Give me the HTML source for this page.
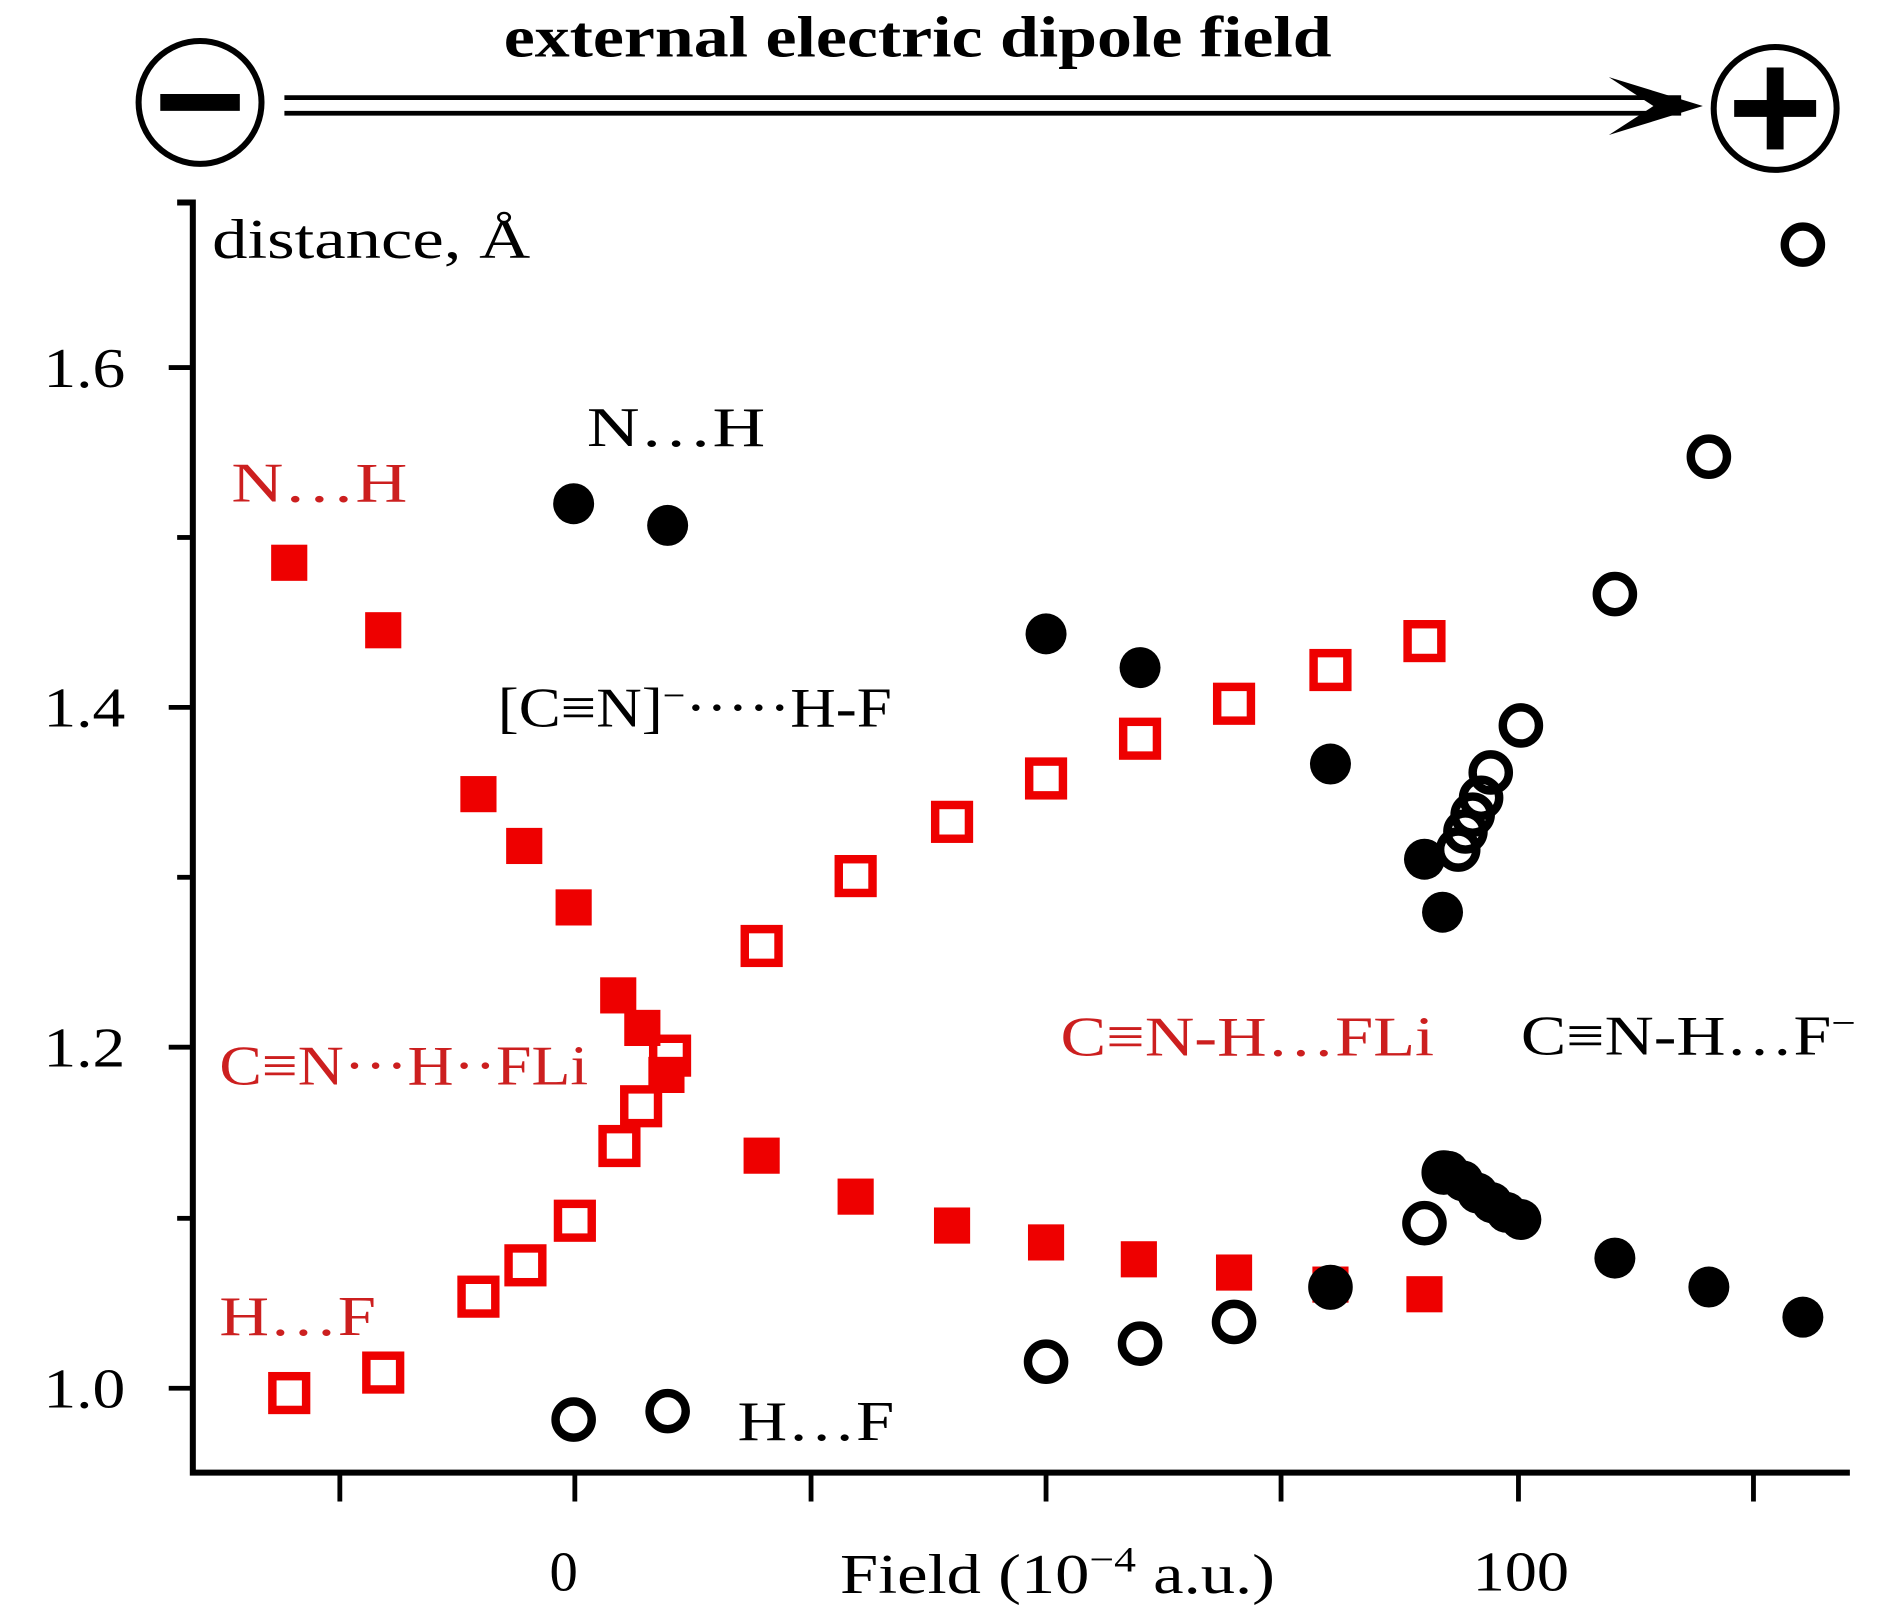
<!DOCTYPE html>
<html><head><meta charset="utf-8"><style>
html,body{margin:0;padding:0;background:#fff;}
svg{display:block;}
text{font-family:"Liberation Serif",serif;}
</style></head><body>
<svg width="1880" height="1616" viewBox="0 0 1560 1341" preserveAspectRatio="none" xmlns="http://www.w3.org/2000/svg">
<rect width="1560" height="1341" fill="#fff"/>
<!-- header -->
<text x="418" y="47" font-size="48" font-weight="bold" fill="#000" textLength="687" lengthAdjust="spacingAndGlyphs">external electric dipole field</text>
<circle cx="166" cy="85" r="51" fill="none" stroke="#000" stroke-width="5"/>
<rect x="133" y="78" width="66" height="14" fill="#000"/>
<circle cx="1473" cy="90" r="51" fill="none" stroke="#000" stroke-width="5"/>
<rect x="1439" y="83" width="68" height="14" fill="#000"/>
<rect x="1466" y="56" width="14" height="68" fill="#000"/>
<line x1="236" y1="81" x2="1395" y2="81" stroke="#000" stroke-width="4"/>
<line x1="236" y1="94" x2="1395" y2="94" stroke="#000" stroke-width="4"/>
<path d="M1335 64 L1413 88 L1335 112 L1372 88 Z" fill="#000"/>
<!-- axes -->
<path d="M147 168 H160 V1222 H1535" fill="none" stroke="#000" stroke-width="5"/>
<g stroke="#000" stroke-width="4">
<line x1="140" y1="305" x2="160" y2="305"/><line x1="147" y1="446" x2="160" y2="446"/>
<line x1="140" y1="587" x2="160" y2="587"/><line x1="147" y1="728" x2="160" y2="728"/>
<line x1="140" y1="869" x2="160" y2="869"/><line x1="147" y1="1011" x2="160" y2="1011"/>
<line x1="140" y1="1152" x2="160" y2="1152"/>
<line x1="282" y1="1222" x2="282" y2="1246"/><line x1="477" y1="1222" x2="477" y2="1246"/>
<line x1="673" y1="1222" x2="673" y2="1246"/><line x1="868" y1="1222" x2="868" y2="1246"/>
<line x1="1063" y1="1222" x2="1063" y2="1246"/><line x1="1260" y1="1222" x2="1260" y2="1246"/>
<line x1="1455" y1="1222" x2="1455" y2="1246"/>
</g>
<g font-size="47" fill="#000">
<text x="36" y="321" textLength="68" lengthAdjust="spacingAndGlyphs">1.6</text>
<text x="36" y="603" textLength="68" lengthAdjust="spacingAndGlyphs">1.4</text>
<text x="36" y="885" textLength="68" lengthAdjust="spacingAndGlyphs">1.2</text>
<text x="36" y="1168" textLength="68" lengthAdjust="spacingAndGlyphs">1.0</text>
<text x="456" y="1320">0</text>
<text x="1222" y="1320" textLength="80" lengthAdjust="spacingAndGlyphs">100</text>
<text x="697" y="1322" textLength="361" lengthAdjust="spacingAndGlyphs">Field (10<tspan font-size="30" dy="-18">−4</tspan><tspan dy="18"> a.u.)</tspan></text>
<text x="176" y="214" textLength="264" lengthAdjust="spacingAndGlyphs">distance, Å</text>
<text x="487" y="370" textLength="148" lengthAdjust="spacingAndGlyphs">N…H</text>
<text x="413" y="603" textLength="327" lengthAdjust="spacingAndGlyphs">[C≡N]<tspan font-size="30" dy="-16">−</tspan><tspan dy="16">·····H-F</tspan></text>
<text x="612" y="1195" textLength="130" lengthAdjust="spacingAndGlyphs">H…F</text>
<text x="1262" y="875" textLength="278" lengthAdjust="spacingAndGlyphs">C≡N-H…F<tspan font-size="30" dy="-16">−</tspan></text>
</g>
<g font-size="47" fill="#cc1f1f">
<text x="192" y="416" textLength="146" lengthAdjust="spacingAndGlyphs">N…H</text>
<text x="182" y="900" textLength="306" lengthAdjust="spacingAndGlyphs">C≡N···H··FLi</text>
<text x="880" y="876" textLength="310" lengthAdjust="spacingAndGlyphs">C≡N-H…FLi</text>
<text x="182" y="1108" textLength="130" lengthAdjust="spacingAndGlyphs">H…F</text>
</g>
<!-- red filled squares -->
<g fill="#ee0000">
<rect x="225" y="452" width="30" height="30"/><rect x="303" y="508" width="30" height="30"/>
<rect x="382" y="644" width="30" height="30"/><rect x="420" y="687" width="30" height="30"/>
<rect x="461" y="738" width="30" height="30"/><rect x="498" y="811" width="30" height="30"/>
<rect x="518" y="838" width="30" height="30"/><rect x="538" y="877" width="30" height="30"/>
<rect x="617" y="944" width="30" height="30"/><rect x="695" y="978" width="30" height="30"/>
<rect x="775" y="1002" width="30" height="30"/><rect x="853" y="1016" width="30" height="30"/>
<rect x="930" y="1030" width="30" height="30"/><rect x="1009" y="1041" width="30" height="30"/>
<rect x="1089" y="1051" width="30" height="30"/><rect x="1167" y="1059" width="30" height="30"/>
</g>
<!-- red open squares -->
<g fill="none" stroke="#ee0000" stroke-width="7">
<rect x="226" y="1142" width="28" height="28"/><rect x="304" y="1125" width="28" height="28"/>
<rect x="383" y="1062" width="28" height="28"/><rect x="422" y="1036" width="28" height="28"/>
<rect x="463" y="999" width="28" height="28"/><rect x="500" y="937" width="28" height="28"/>
<rect x="518" y="904" width="28" height="28"/><rect x="542" y="862" width="28" height="28"/>
<rect x="618" y="771" width="28" height="28"/><rect x="696" y="713" width="28" height="28"/>
<rect x="776" y="668" width="28" height="28"/><rect x="854" y="632" width="28" height="28"/>
<rect x="932" y="599" width="28" height="28"/><rect x="1010" y="570" width="28" height="28"/>
<rect x="1090" y="542" width="28" height="28"/><rect x="1168" y="518" width="28" height="28"/>
</g>
<!-- black open circles -->
<g fill="none" stroke="#000" stroke-width="7">
<circle cx="476" cy="1178" r="15"/><circle cx="554" cy="1171" r="15"/>
<circle cx="868" cy="1130" r="15"/><circle cx="946" cy="1115" r="15"/>
<circle cx="1024" cy="1097" r="15"/><circle cx="1104" cy="1068" r="15"/>
<circle cx="1182" cy="1015" r="15"/><circle cx="1198" cy="973" r="15"/>
<circle cx="1210" cy="705" r="15"/><circle cx="1216" cy="690" r="15"/>
<circle cx="1222" cy="676" r="15"/><circle cx="1229" cy="662" r="15"/>
<circle cx="1237" cy="641" r="15"/><circle cx="1262" cy="602" r="15"/>
<circle cx="1340" cy="493" r="15"/><circle cx="1418" cy="379" r="15"/>
<circle cx="1496" cy="203" r="15"/>
</g>
<!-- black filled circles -->
<g fill="#000">
<circle cx="476" cy="418" r="17"/><circle cx="554" cy="436" r="17"/>
<circle cx="868" cy="526" r="17"/><circle cx="946" cy="554" r="17"/>
<circle cx="1104" cy="634" r="17"/><circle cx="1182" cy="713" r="17"/>
<circle cx="1197" cy="757" r="17"/><circle cx="1104" cy="1070" r="17"/>
<circle cx="1202" cy="972" r="17"/><circle cx="1214" cy="980" r="17"/>
<circle cx="1226" cy="990" r="17"/><circle cx="1238" cy="998" r="17"/>
<circle cx="1250" cy="1006" r="17"/><circle cx="1262" cy="1012" r="17"/>
<circle cx="1340" cy="1044" r="17"/><circle cx="1418" cy="1068" r="17"/>
<circle cx="1496" cy="1093" r="17"/>
</g>
</svg>
</body></html>
